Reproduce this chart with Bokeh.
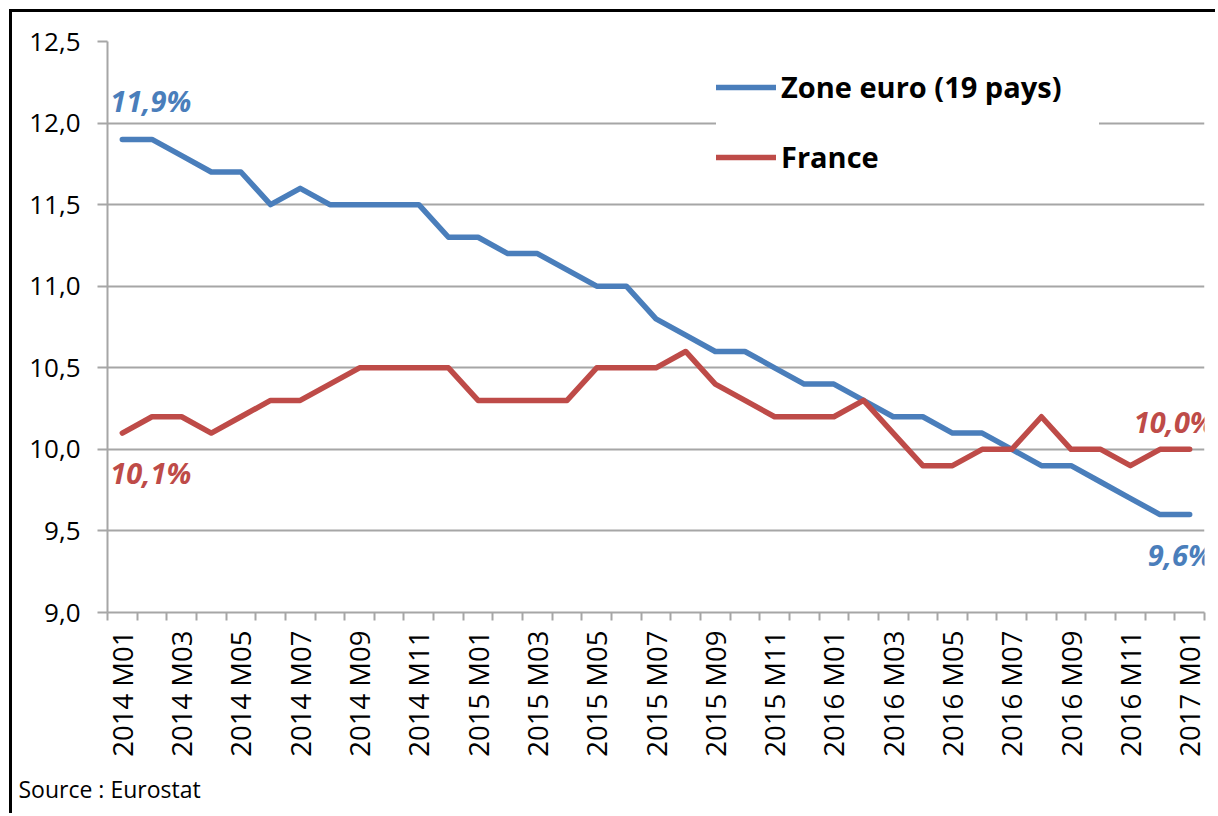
from math import pi
from bokeh.plotting import figure
from bokeh.models import (Range1d, FixedTicker, CustomJSTickFormatter, Legend, LegendItem,
                          Label, Title)
from bokeh.embed import file_html
from bokeh.resources import INLINE

# ---- data ----
months = [f"{2014 + i // 12} M{i % 12 + 1:02d}" for i in range(37)]
zone_euro = [11.9, 11.9, 11.8, 11.7, 11.7, 11.5, 11.6, 11.5, 11.5, 11.5, 11.5, 11.3,
             11.3, 11.2, 11.2, 11.1, 11.0, 11.0, 10.8, 10.7, 10.6, 10.6, 10.5, 10.4,
             10.4, 10.3, 10.2, 10.2, 10.1, 10.1, 10.0, 9.9, 9.9, 9.8, 9.7, 9.6, 9.6]
france = [10.1, 10.2, 10.2, 10.1, 10.2, 10.3, 10.3, 10.4, 10.5, 10.5, 10.5, 10.5,
          10.3, 10.3, 10.3, 10.3, 10.5, 10.5, 10.5, 10.6, 10.4, 10.3, 10.2, 10.2,
          10.2, 10.3, 10.1, 9.9, 9.9, 10.0, 10.0, 10.2, 10.0, 10.0, 9.9, 10.0, 10.0]
y_ticks = [9.0, 9.5, 10.0, 10.5, 11.0, 11.5, 12.0, 12.5]
series_names = ["Zone euro (19 pays)", "France"]
source_text = "Source : Eurostat"

BLUE = "#4a7ebb"
RED = "#be4b48"
GRID = "#a6a6a6"
FONT = "Open Sans"

x = list(range(len(months)))

p = figure(width=1206, height=804, output_backend="svg", toolbar_location=None,
           x_range=Range1d(-0.5, len(months) - 0.5), y_range=Range1d(y_ticks[0], y_ticks[-1]),
           min_border_left=95, min_border_top=29, min_border_right=14, min_border_bottom=204)
p.styles = {"margin-left": "9px", "margin-top": "9px",
            "border-left": "3px solid black", "border-top": "3px solid black"}
p.outline_line_color = None
p.background_fill_color = "white"
p.border_fill_color = "white"

# axes
xa = p.xaxis[0]
xa.ticker = FixedTicker(ticks=list(range(0, len(months), 2)),
                        minor_ticks=[i - 0.5 for i in range(len(months) + 1)])
xa.major_label_overrides = {i: months[i] for i in range(0, len(months), 2)}
xa.major_label_orientation = pi / 2
xa.major_tick_out = 0
xa.major_tick_in = 0
xa.minor_tick_out = 8
xa.minor_tick_in = 0
xa.minor_tick_line_color = GRID
xa.minor_tick_line_width = 2
xa.axis_line_color = GRID
xa.axis_line_width = 2
xa.major_label_text_font = FONT
xa.major_label_text_font_size = "27.5px"
xa.major_label_text_color = "black"
xa.major_label_standoff = 10

ya = p.yaxis[0]
ya.ticker = FixedTicker(ticks=y_ticks)
ya.formatter = CustomJSTickFormatter(code="return tick.toFixed(1).replace('.', ',');")
ya.major_tick_out = 10
ya.major_tick_in = 0
ya.major_tick_line_color = GRID
ya.major_tick_line_width = 2
ya.minor_tick_out = 0
ya.minor_tick_in = 0
ya.axis_line_color = GRID
ya.axis_line_width = 2
ya.major_label_text_font = FONT
ya.major_label_text_font_size = "26px"
ya.major_label_text_color = "black"
ya.major_label_standoff = 17

p.xgrid.visible = False
p.ygrid.ticker = FixedTicker(ticks=y_ticks)
p.ygrid.grid_line_color = GRID
p.ygrid.grid_line_width = 2

r1 = p.line(x, zone_euro, line_color=BLUE, line_width=5.5, line_join="round", line_cap="round")
r2 = p.line(x, france, line_color=RED, line_width=5.5, line_join="round", line_cap="round")

legend = Legend(items=[LegendItem(label=series_names[0], renderers=[r1]),
                       LegendItem(label=series_names[1], renderers=[r2])],
                location=(609, 436), orientation="vertical",
                background_fill_color="white", background_fill_alpha=1.0,
                border_line_color=None, padding=25, spacing=31,
                glyph_width=60, glyph_height=34, label_height=34, label_width=318,
                label_standoff=5,
                label_text_font=FONT, label_text_font_size="29px",
                label_text_font_style="bold", label_text_color="black", margin=0)
p.add_layout(legend, "center")


def fmt(v):
    return f"{v:.1f}%".replace(".", ",")


lab_style = dict(text_font=FONT, text_font_size="29px", text_font_style="bold italic",
                 text_align="left", text_baseline="alphabetic")
p.add_layout(Label(x=x[0], y=zone_euro[0], text=fmt(zone_euro[0]), text_color=BLUE,
                   x_offset=-12, y_offset=39, **lab_style))
p.add_layout(Label(x=x[0], y=france[0], text=fmt(france[0]), text_color=RED,
                   x_offset=-12, y_offset=-39, **lab_style))
p.add_layout(Label(x=x[-1], y=france[-1], text=fmt(france[-1]), text_color=RED,
                   x_offset=-56, y_offset=28, **lab_style))
p.add_layout(Label(x=x[-1], y=zone_euro[-1], text=fmt(zone_euro[-1]), text_color=BLUE,
                   x_offset=-42, y_offset=-40, **lab_style))

p.add_layout(Title(text=source_text, align="left", offset=-89, text_font=FONT,
                   text_font_size="23px", text_font_style="normal", text_color="black",
                   standoff=22), "below")

open("out.html", "w").write(file_html(p, INLINE))
